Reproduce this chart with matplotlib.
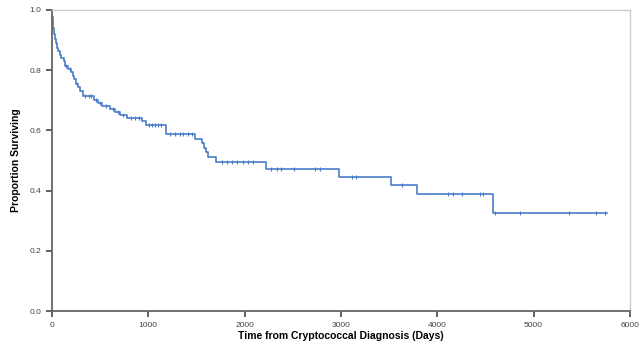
import numpy as np
import matplotlib
matplotlib.use("Agg")
import matplotlib.pyplot as plt

plt.rcParams["font.family"] = ["Liberation Sans", "DejaVu Sans"]

# Kaplan-Meier step estimates (time in days, survival after the step)
step_days = [0, 5, 10, 15, 25, 35, 45, 55, 65, 80, 95, 120, 140, 170, 200, 215,
             230, 250, 270, 290, 320, 440, 480, 520, 600, 650, 710, 780, 930,
             975, 1180, 1485, 1555, 1580, 1600, 1615, 1700, 2220, 2985, 3520,
             3790, 4580, 5760]
surv = [1.0, 0.975, 0.955, 0.94, 0.92, 0.905, 0.89, 0.875, 0.865, 0.85, 0.84,
        0.83, 0.815, 0.805, 0.795, 0.78, 0.77, 0.755, 0.745, 0.73, 0.715, 0.70,
        0.69, 0.68, 0.67, 0.66, 0.65, 0.64, 0.63, 0.618, 0.587, 0.572, 0.557,
        0.541, 0.528, 0.513, 0.496, 0.473, 0.447, 0.419, 0.388, 0.325, 0.325]

# censored observations (days)
censor_days = [150, 190, 260, 340, 380, 410, 460, 500, 560, 630, 690, 740, 820,
               860, 900, 1010, 1040, 1070, 1100, 1130, 1225, 1277, 1329, 1363,
               1415, 1450, 1762, 1814, 1866, 1918, 1987, 2039, 2090, 2271, 2333,
               2375, 2516, 2731, 2783, 3112, 3157, 3631, 4116, 4167, 4254, 4444,
               4479, 4600, 4860, 5372, 5649, 5743]

x_ticks = [0, 1000, 2000, 3000, 4000, 5000, 6000]
y_ticks = [0.0, 0.2, 0.4, 0.6, 0.8, 1.0]

line_color = "#4a7dc9"

fig = plt.figure(figsize=(6.42, 3.54), dpi=100)
ax = fig.add_axes([0.081, 0.121, 0.900, 0.851])

ax.step(step_days, surv, where="post", color=line_color, lw=1.2)
idx = np.searchsorted(step_days, censor_days, side="right") - 1
cens_y = np.array(surv)[idx]
ax.plot(censor_days, cens_y, ls="none", marker="|", ms=3.5, mew=0.8,
        color=line_color)

ax.set_xlim(0, 6000)
ax.set_ylim(0, 1.0)
ax.set_xticks(x_ticks)
ax.set_yticks(y_ticks)
ax.set_xticklabels([str(t) for t in x_ticks])
ax.set_yticklabels([f"{t:.1f}" for t in y_ticks])
ax.tick_params(axis="both", direction="out", length=4, width=1.3,
               color="#555555", labelsize=6, labelcolor="#444444")
ax.tick_params(axis="x", pad=4)

for side in ("left", "bottom"):
    ax.spines[side].set_color("#666666")
    ax.spines[side].set_linewidth(1.3)
for side in ("top", "right"):
    ax.spines[side].set_color("#cccccc")
    ax.spines[side].set_linewidth(1.0)

ax.set_xlabel("Time from Cryptococcal Diagnosis (Days)", fontsize=7.5,
              fontweight="bold", labelpad=1)
ax.set_ylabel("Proportion Surviving", fontsize=7.5, fontweight="bold",
              labelpad=6)

fig.savefig("out.png", dpi=100)
